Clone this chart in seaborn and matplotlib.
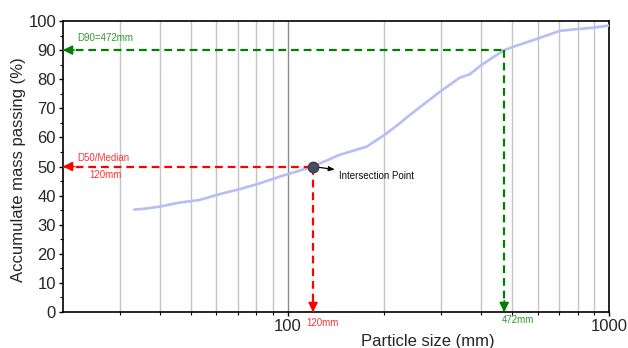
import numpy as np
import pandas as pd
import matplotlib
matplotlib.use("Agg")
import matplotlib.pyplot as plt
from matplotlib.ticker import FixedLocator, NullFormatter, FixedFormatter, MultipleLocator
import seaborn as sns

# Cumulative grading curve
particle_size = [33.3, 36.0, 39.9, 46.1, 53.2, 61.4, 70.9, 81.8, 94.4, 120.0, 145.0,
                 176.0, 200.0, 223.0, 240.0, 298.0, 343.0, 369.0, 401.0, 472.0,
                 515.0, 595.0, 703.0, 812.0, 894.0, 995.0]
mass_passing = [35.2, 35.5, 36.2, 37.6, 38.5, 40.5, 42.2, 44.2, 46.5, 50.0, 54.0,
                56.8, 60.8, 64.8, 67.7, 75.7, 80.5, 81.7, 84.9, 90.0,
                91.5, 93.8, 96.6, 97.3, 97.7, 98.4]

# Characteristic sizes
d50_size, d50_pass = 120, 50
d90_size, d90_pass = 472, 90

x_ticks = [100, 1000]
x_tick_labels = ["100", "1000"]
x_minor = [30, 40, 50, 60, 70, 80, 90, 200, 300, 400, 500, 600, 700, 800, 900]

df = pd.DataFrame({"size": particle_size, "passing": mass_passing})

sns.set_style("white")
plt.rcParams["font.family"] = ["Liberation Sans", "DejaVu Sans"]

fig = plt.figure(figsize=(6.28, 3.48), dpi=100)
ax = fig.add_axes([0.1003, 0.1034, 0.8694, 0.8363])

ax.set_xscale("log")
ax.set_xlim(20, 1000)
ax.set_ylim(0, 100)

# vertical grid
for v in x_minor:
    ax.axvline(v, color="#c4c4c4", lw=1.0, zorder=0)
ax.axvline(100, color="#8c8c8c", lw=1.0, zorder=0)

sns.lineplot(data=df, x="size", y="passing", ax=ax, color="#b6bef8", lw=1.9,
             zorder=3)

red = "#ff0000"
green = "#008000"
dash = (0, (3.5, 2.2))

# D90 guide lines
ax.plot([20, d90_size], [d90_pass, d90_pass], color=green, lw=1.6, ls=dash, zorder=4)
ax.plot([d90_size, d90_size], [d90_pass, 0], color=green, lw=1.6, ls=dash, zorder=4)
# D50 guide lines
ax.plot([20, d50_size], [d50_pass, d50_pass], color=red, lw=1.6, ls=dash, zorder=4)
ax.plot([d50_size, d50_size], [d50_pass, 0], color=red, lw=1.6, ls=dash, zorder=4)

head = dict(arrowstyle="-|>,head_length=0.55,head_width=0.28", lw=1.2,
            shrinkA=0, shrinkB=0)
ax.annotate("", xy=(20, d90_pass), xytext=(8, 0), textcoords="offset points",
            arrowprops=dict(color=green, **head), zorder=5)
ax.annotate("", xy=(d90_size, 0), xytext=(0, 8), textcoords="offset points",
            arrowprops=dict(color=green, **head), zorder=5)
ax.annotate("", xy=(20, d50_pass), xytext=(8, 0), textcoords="offset points",
            arrowprops=dict(color=red, **head), zorder=5)
ax.annotate("", xy=(d50_size, 0), xytext=(0, 8), textcoords="offset points",
            arrowprops=dict(color=red, **head), zorder=5)

# intersection marker
ax.plot([d50_size], [d50_pass], marker="o", ms=7.5, color="#4a4d5c",
        mec="#3a3c48", zorder=6)
ax.annotate("Intersection Point", xy=(d50_size, d50_pass), xytext=(19, -6.5),
            textcoords="offset points", ha="left", va="center", fontsize=7,
            color="#111111",
            arrowprops=dict(arrowstyle="<|-,head_length=0.5,head_width=0.2",
                            color="black", lw=0.9, shrinkA=1, shrinkB=3))

# labels
text_red = "#ff3333"
text_green = "#2e9a2e"
ax.text(22.2, 94.2, f"D90={d90_size}mm", color=text_green, fontsize=7,
        ha="left", va="center")
ax.text(22.2, 52.9, "D50/Median", color=text_red, fontsize=7, ha="left", va="center")
ax.text(27.2, 47.0, f"{d50_size}mm", color=text_red, fontsize=7, ha="center",
        va="center")
ax.annotate(f"{d50_size}mm", xy=(d50_size, 0), xytext=(-4.5, -8),
            textcoords="offset points", color=text_red, fontsize=7,
            ha="left", va="center", annotation_clip=False)
ax.annotate(f"{d90_size}mm", xy=(d90_size, 0), xytext=(-1.5, -6),
            textcoords="offset points", color=text_green, fontsize=7,
            ha="left", va="center", annotation_clip=False)

# ticks
ax.xaxis.set_major_locator(FixedLocator(x_ticks))
ax.xaxis.set_major_formatter(FixedFormatter(x_tick_labels))
ax.xaxis.set_minor_locator(FixedLocator(x_minor))
ax.xaxis.set_minor_formatter(NullFormatter())
ax.yaxis.set_major_locator(MultipleLocator(10))
ax.yaxis.set_minor_locator(MultipleLocator(5))
ax.tick_params(axis="both", which="major", direction="out", length=3, width=1,
               labelsize=12, color="black", pad=2, bottom=True, left=True)
ax.tick_params(axis="both", which="minor", direction="out", length=2, width=0.8,
               color="black", bottom=True, left=True)

for s in ax.spines.values():
    s.set_color("black")
    s.set_linewidth(1.2)

ax.set_xlabel("Particle size (mm)", fontsize=12, labelpad=-1)
ax.xaxis.set_label_coords(0.668, -0.075)
ax.set_ylabel("Accumulate mass passing (%)", fontsize=12)
ax.yaxis.set_label_coords(-0.068, 0.49)

fig.savefig("out.png", dpi=100)
